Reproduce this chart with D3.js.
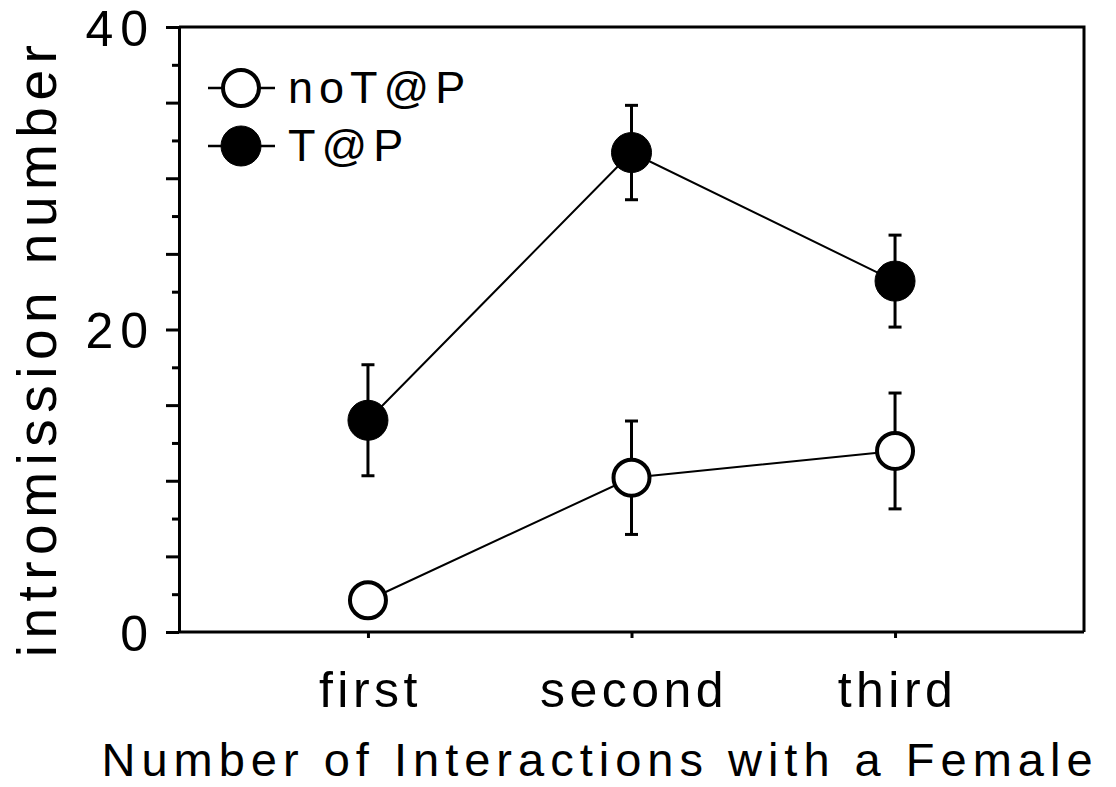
<!DOCTYPE html>
<html>
<head>
<meta charset="utf-8">
<script src="https://cdn.jsdelivr.net/npm/d3@7"></script>
<style>
  html, body { margin: 0; padding: 0; background: #fff; }
  svg { display: block; font-family: "Liberation Sans", Arial, sans-serif; }
</style>
</head>
<body>
<svg id="chart" width="1116" height="787"></svg>
<script>
// Interaction order along the x axis
const categories = ["first", "second", "third"];

// Mean intromission number per group, with error half-widths
const tapMeans = [14.0, 31.7, 23.2];
const tapErrors = [3.67, 3.12, 3.04];
const noTapMeans = [2.1, 10.2, 11.97];
const noTapErrors = [1.0, 3.75, 3.83];

// Y axis ticks: labelled, long and short marks
const yLabelTicks = [0, 20, 40];
const yTicks = d3.range(0, 40.01, 2.5);

const seriesNames = ["noT@P", "T@P"];

const svg = d3.select("#chart");
const plot = { left: 179, right: 1084, top: 27, bottom: 632 };

const x = d3.scalePoint()
  .domain(categories)
  .range([plot.left, plot.right])
  .padding(0.717);

const y = d3.scaleLinear()
  .domain([0, 40])
  .range([plot.bottom, plot.top]);

// Frame: top and right edges
svg.append("path")
  .attr("d", `M${plot.left},${plot.top}H${plot.right}V${plot.bottom}`)
  .attr("fill", "none")
  .attr("stroke", "#000")
  .attr("stroke-width", 3);

// Y axis with long ticks every 5 and short ticks between
const yAxis = svg.append("g")
  .attr("transform", `translate(${plot.left},0)`)
  .call(d3.axisLeft(y)
    .tickValues(yTicks)
    .tickSize(13)
    .tickPadding(11)
    .tickSizeOuter(0)
    .tickFormat(d => yLabelTicks.includes(d) ? d3.format("d")(d) : ""));
yAxis.select(".domain").attr("stroke-width", 3);
yAxis.selectAll(".tick line")
  .attr("stroke-width", 3)
  .attr("x2", d => (d % 5 === 0 ? -13 : -7));
yAxis.selectAll(".tick text")
  .attr("font-size", 50)
  .attr("font-family", "Liberation Sans, Arial, sans-serif")
  .attr("letter-spacing", 7)
  .attr("dy", "0.36em")
  .attr("fill", "#000");

// X axis with short ticks under each category
const xAxis = svg.append("g")
  .attr("transform", `translate(0,${plot.bottom})`)
  .call(d3.axisBottom(x).tickSize(6).tickSizeOuter(0).tickPadding(33));
xAxis.select(".domain")
  .attr("d", `M${plot.left},0H${plot.right}`)
  .attr("stroke-width", 3);
xAxis.selectAll(".tick line").attr("stroke-width", 3);
xAxis.selectAll(".tick text")
  .attr("font-size", 50)
  .attr("font-family", "Liberation Sans, Arial, sans-serif")
  .attr("letter-spacing", 4.5)
  .attr("dx", 2)
  .attr("dy", "0.71em")
  .attr("fill", "#000");

// Axis titles
svg.append("text")
  .attr("x", 600)
  .attr("y", 776)
  .attr("text-anchor", "middle")
  .attr("font-size", 47)
  .attr("letter-spacing", 6)
  .text("Number of Interactions with a Female");

svg.append("text")
  .attr("transform", "translate(56,348) rotate(-90)")
  .attr("text-anchor", "middle")
  .attr("font-size", 55)
  .attr("letter-spacing", 6.5)
  .text("intromission number");

// Series
const series = [
  { name: seriesNames[0], means: noTapMeans, errors: noTapErrors, filled: false },
  { name: seriesNames[1], means: tapMeans, errors: tapErrors, filled: true }
];

const line = d3.line()
  .x((d, i) => x(categories[i]))
  .y(d => y(d));

series.forEach(s => {
  const g = svg.append("g");
  const pts = s.means.map((m, i) => ({ cat: categories[i], m, e: s.errors[i] }));

  g.append("path")
    .attr("d", line(s.means))
    .attr("fill", "none")
    .attr("stroke", "#000")
    .attr("stroke-width", 2);

  const eb = g.selectAll(".err").data(pts).join("g");
  eb.append("line")
    .attr("x1", d => x(d.cat)).attr("x2", d => x(d.cat))
    .attr("y1", d => y(d.m - d.e)).attr("y2", d => y(d.m + d.e))
    .attr("stroke", "#000").attr("stroke-width", 3);
  [-1, 1].forEach(sgn => {
    eb.append("line")
      .attr("x1", d => x(d.cat) - 6.5).attr("x2", d => x(d.cat) + 6.5)
      .attr("y1", d => y(d.m + sgn * d.e)).attr("y2", d => y(d.m + sgn * d.e))
      .attr("stroke", "#000").attr("stroke-width", 3);
  });

  g.selectAll("circle").data(pts).join("circle")
    .attr("cx", d => x(d.cat))
    .attr("cy", d => y(d.m))
    .attr("r", s.filled ? 20 : 18)
    .attr("fill", s.filled ? "#000" : "#fff")
    .attr("stroke", "#000")
    .attr("stroke-width", s.filled ? 1 : 4);
});

// Legend
const legend = svg.append("g");
series.forEach((s, i) => {
  const cy = 88 + i * 58;
  legend.append("line")
    .attr("x1", 208).attr("x2", 275)
    .attr("y1", cy).attr("y2", cy)
    .attr("stroke", "#000").attr("stroke-width", 2.5);
  legend.append("circle")
    .attr("cx", 241).attr("cy", cy)
    .attr("r", s.filled ? 20 : 18)
    .attr("fill", s.filled ? "#000" : "#fff")
    .attr("stroke", "#000")
    .attr("stroke-width", s.filled ? 1 : 4);
  legend.append("text")
    .attr("x", 288).attr("y", cy + 15)
    .attr("font-size", 45)
    .attr("letter-spacing", 6)
    .text(s.name);
});
</script>
</body>
</html>
